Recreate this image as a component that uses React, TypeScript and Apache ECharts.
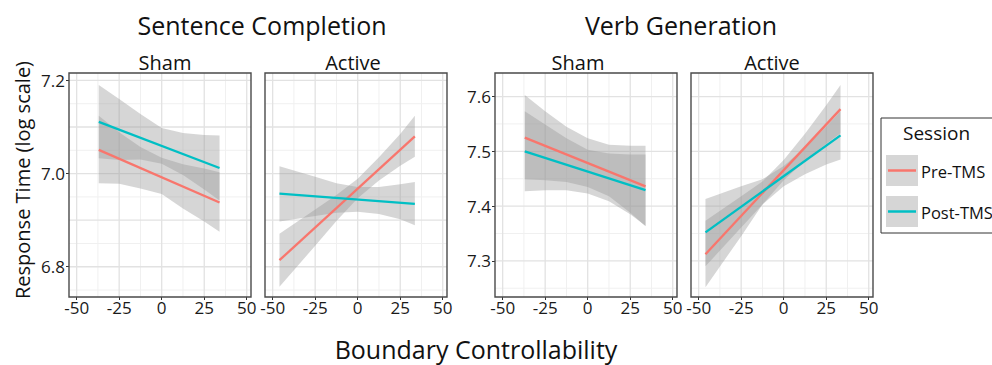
import React, { useEffect, useRef } from "react";
import * as echarts from "echarts";

// ---------- data ----------
const sessions = ["Pre-TMS", "Post-TMS"];
const sessionColors = ["#F8766D", "#00BFC4"];
const taskTitles = ["Sentence Completion", "Verb Generation"];
const conditionLabels = ["Sham", "Active", "Sham", "Active"];

const xTicks = [-50, -25, 0, 25, 50];
const xGridLines = [-50, -37.5, -25, -12.5, 0, 12.5, 25, 37.5, 50];
const scYTicks = [6.8, 7.0, 7.2];
const scYGridLines = [6.75, 6.8, 6.85, 6.9, 6.95, 7.0, 7.05, 7.1, 7.15, 7.2];
const scYMajor = [6.8, 6.9, 7.0, 7.1, 7.2];
const vgYTicks = [7.3, 7.4, 7.5, 7.6];
const vgYGridLines = [7.25, 7.3, 7.35, 7.4, 7.45, 7.5, 7.55, 7.6];
const vgYMajor = [7.3, 7.4, 7.5, 7.6];

// Sentence Completion - Sham
const scShamX = [-37, -25, -12.5, 0, 12.5, 25, 34];
const scShamPreLine = [[-37, 7.051], [34, 6.938]];
const scShamPostLine = [[-37, 7.111], [34, 7.012]];
const scShamPreUpper = [7.124, 7.089, 7.057, 7.034, 7.02, 7.011, 7.003];
const scShamPreLower = [6.979, 6.978, 6.968, 6.956, 6.925, 6.897, 6.875];
const scShamPostUpper = [7.19, 7.16, 7.128, 7.098, 7.087, 7.083, 7.082];
const scShamPostLower = [7.033, 7.029, 7.03, 7.021, 6.997, 6.966, 6.942];

// Sentence Completion - Active
const scActiveX = [-46, -25, -12.5, 0, 12.5, 25, 33.6];
const scActivePreLine = [[-46, 6.814], [33.6, 7.08]];
const scActivePostLine = [[-46, 6.957], [33.6, 6.935]];
const scActivePreUpper = [6.871, 6.923, 6.954, 6.989, 7.035, 7.085, 7.124];
const scActivePreLower = [6.757, 6.845, 6.898, 6.947, 6.985, 7.017, 7.036];
const scActivePostUpper = [7.016, 6.993, 6.979, 6.971, 6.971, 6.977, 6.982];
const scActivePostLower = [6.897, 6.909, 6.916, 6.918, 6.913, 6.902, 6.889];

// Verb Generation - Sham
const vgShamX = [-37, -25, -12.5, 0, 12.5, 25, 34];
const vgShamPreLine = [[-37, 7.525], [34, 7.436]];
const vgShamPostLine = [[-37, 7.5], [34, 7.429]];
const vgShamPreUpper = [7.603, 7.573, 7.545, 7.524, 7.512, 7.51, 7.51];
const vgShamPreLower = [7.449, 7.447, 7.444, 7.435, 7.418, 7.388, 7.363];
const vgShamPostUpper = [7.573, 7.549, 7.524, 7.503, 7.496, 7.494, 7.494];
const vgShamPostLower = [7.427, 7.429, 7.429, 7.423, 7.409, 7.385, 7.364];

// Verb Generation - Active
const vgActiveX = [-46, -25, -12.5, 0, 12.5, 25, 33.4];
const vgActivePreLine = [[-46, 7.312], [33.4, 7.577]];
const vgActivePostLine = [[-46, 7.352], [33.4, 7.529]];
const vgActivePreUpper = [7.373, 7.418, 7.445, 7.484, 7.532, 7.584, 7.621];
const vgActivePreLower = [7.252, 7.345, 7.403, 7.447, 7.483, 7.514, 7.533];
const vgActivePostUpper = [7.413, 7.436, 7.449, 7.473, 7.507, 7.545, 7.573];
const vgActivePostLower = [7.29, 7.361, 7.403, 7.436, 7.458, 7.476, 7.485];

// ---------- layout ----------
const FONT = "'Open Sans', 'DejaVu Sans', sans-serif";
const X_MIN = -54.5;
const X_MAX = 52.5;
const SC_RANGE = [6.735, 7.216];
const VG_RANGE = [7.234, 7.643];
const PANEL_LEFTS = [69, 265, 495, 691];
const PANEL_TOP = 73;
const PANEL_W = 182;
const PANEL_H = 224;

const panels = [
  { x: scShamX, pre: scShamPreLine, post: scShamPostLine, preU: scShamPreUpper, preL: scShamPreLower, postU: scShamPostUpper, postL: scShamPostLower, range: SC_RANGE, yTicks: scYTicks, yGrid: scYGridLines, yMajor: scYMajor, showY: true },
  { x: scActiveX, pre: scActivePreLine, post: scActivePostLine, preU: scActivePreUpper, preL: scActivePreLower, postU: scActivePostUpper, postL: scActivePostLower, range: SC_RANGE, yTicks: scYTicks, yGrid: scYGridLines, yMajor: scYMajor, showY: false },
  { x: vgShamX, pre: vgShamPreLine, post: vgShamPostLine, preU: vgShamPreUpper, preL: vgShamPreLower, postU: vgShamPostUpper, postL: vgShamPostLower, range: VG_RANGE, yTicks: vgYTicks, yGrid: vgYGridLines, yMajor: vgYMajor, showY: true },
  { x: vgActiveX, pre: vgActivePreLine, post: vgActivePostLine, preU: vgActivePreUpper, preL: vgActivePreLower, postU: vgActivePostUpper, postL: vgActivePostLower, range: VG_RANGE, yTicks: vgYTicks, yGrid: vgYGridLines, yMajor: vgYMajor, showY: false },
];

const isIn = (arr: number[], v: number) => arr.some((m) => Math.abs(m - v) < 1e-6);

function gridLineSeries(gi: number, yGrid: number[], yMajor: number[], range: number[]) {
  return {
    type: "custom",
    xAxisIndex: gi,
    yAxisIndex: gi,
    silent: true,
    z: 1,
    data: [[0, (range[0] + range[1]) / 2]],
    renderItem: (params: any, api: any) => {
      const cs = params.coordSys;
      const children: any[] = [];
      const minorStyle = { stroke: "#f0f0f0", lineWidth: 1 };
      const majorStyle = { stroke: "#e2e2e2", lineWidth: 1.3 };
      const mid = (range[0] + range[1]) / 2;
      [false, true].forEach((wantMajor) => {
        xGridLines.forEach((v) => {
          if (isIn(xTicks, v) !== wantMajor) return;
          const p = api.coord([v, mid]);
          children.push({ type: "line", shape: { x1: p[0], y1: cs.y, x2: p[0], y2: cs.y + cs.height }, style: wantMajor ? majorStyle : minorStyle });
        });
        yGrid.forEach((v) => {
          if (isIn(yMajor, v) !== wantMajor) return;
          const p = api.coord([0, v]);
          children.push({ type: "line", shape: { x1: cs.x, y1: p[1], x2: cs.x + cs.width, y2: p[1] }, style: wantMajor ? majorStyle : minorStyle });
        });
      });
      return { type: "group", children };
    },
  };
}

function ribbonSeries(gi: number, name: string, xs: number[], lo: number[], hi: number[]) {
  return {
    type: "custom",
    name,
    xAxisIndex: gi,
    yAxisIndex: gi,
    silent: true,
    z: 2,
    data: xs.map((x, i) => [x, lo[i], hi[i]]),
    encode: { x: 0, y: [1, 2] },
    renderItem: (params: any, api: any) => {
      if (params.dataIndex !== 0) return null;
      const top = xs.map((x, i) => api.coord([x, hi[i]]));
      const bot = xs.map((x, i) => api.coord([x, lo[i]])).reverse();
      return {
        type: "polygon",
        shape: { points: top.concat(bot) },
        style: { fill: "rgba(153,153,153,0.4)" },
      };
    },
  };
}

function lineSeries(gi: number, name: string, data: number[][], color: string) {
  return {
    type: "line",
    name,
    xAxisIndex: gi,
    yAxisIndex: gi,
    data,
    symbol: "none",
    showSymbol: false,
    silent: true,
    z: 2,
    lineStyle: { color, width: 2.3 },
  };
}

export default function App() {
  const ref = useRef<HTMLDivElement>(null);

  useEffect(() => {
    if (!ref.current) return;
    const chart = echarts.init(ref.current, undefined, { renderer: "svg" });

    const grids = PANEL_LEFTS.map((left) => ({
      left,
      top: PANEL_TOP,
      width: PANEL_W,
      height: PANEL_H,
      show: true,
      z: 5,
      backgroundColor: "transparent",
      borderColor: "#4a4a4a",
      borderWidth: 1.4,
    }));

    const xAxes = panels.map((_, gi) => ({
      type: "value",
      gridIndex: gi,
      position: "bottom",
      min: X_MIN,
      max: X_MAX,
      axisLine: { show: false, onZero: false },
      splitLine: { show: false },
      axisTick: { show: true, customValues: xTicks, length: 3, lineStyle: { color: "#333", width: 1 } },
      axisLabel: {
        customValues: xTicks,
        formatter: (v: number) => String(v),
        fontSize: 17,
        fontFamily: FONT,
        color: "#1a1a1a",
        margin: 2,
      },
    }));

    const yAxes = panels.map((p, gi) => ({
      type: "value",
      gridIndex: gi,
      position: "left",
      min: p.range[0],
      max: p.range[1],
      axisLine: { show: false, onZero: false },
      splitLine: { show: false },
      axisTick: { show: p.showY, customValues: p.yTicks, length: 3, lineStyle: { color: "#333", width: 1 } },
      axisLabel: {
        show: p.showY,
        customValues: p.yTicks,
        formatter: (v: number) => v.toFixed(1),
        fontSize: 17,
        fontFamily: FONT,
        color: "#1a1a1a",
        margin: 4,
      },
    }));

    const series: any[] = [];
    panels.forEach((p, gi) => {
      series.push(gridLineSeries(gi, p.yGrid, p.yMajor, p.range));
      series.push(ribbonSeries(gi, sessions[0] + " CI", p.x, p.preL, p.preU));
      series.push(lineSeries(gi, sessions[0], p.pre, sessionColors[0]));
      series.push(ribbonSeries(gi, sessions[1] + " CI", p.x, p.postL, p.postU));
      series.push(lineSeries(gi, sessions[1], p.post, sessionColors[1]));
    });

    const textStyle = (text: string, size: number) => ({
      text,
      fontSize: size,
      fontFamily: FONT,
      fill: "#111",
      align: "center",
      verticalAlign: "middle",
      textAlign: "center",
      textVerticalAlign: "middle",
    });

    const facetCenters = [165, 353, 578, 772];

    const graphic: any[] = [
      { type: "text", x: 262, y: 25, style: textStyle(taskTitles[0], 25) },
      { type: "text", x: 681, y: 25, style: textStyle(taskTitles[1], 25) },
      ...conditionLabels.map((c, i) => ({ type: "text", x: facetCenters[i], y: 62, style: textStyle(c, 20) })),
      { type: "text", x: 22, y: 180, rotation: Math.PI / 2, style: textStyle("Response Time (log scale)", 20) },
      { type: "text", x: 476, y: 349, style: textStyle("Boundary Controllability", 25) },
      // legend
      { type: "rect", shape: { x: 881, y: 118, width: 140, height: 115 }, style: { fill: "#fff", stroke: "#333", lineWidth: 1 } },
      { type: "text", x: 903, y: 133, style: { ...textStyle("Session", 19), align: "left", textAlign: "left" } },
      ...sessions.flatMap((s, i) => {
        const y0 = 155 + i * 41;
        return [
          { type: "rect", shape: { x: 886, y: y0, width: 32, height: 31 }, style: { fill: "#d6d6d6" } },
          { type: "line", shape: { x1: 888, y1: y0 + 15.5, x2: 916, y2: y0 + 15.5 }, style: { stroke: sessionColors[i], lineWidth: 2.5 } },
          { type: "text", x: 921, y: y0 + 16, style: { ...textStyle(s, 16.5), align: "left", textAlign: "left" } },
        ];
      }),
    ];

    chart.setOption({
      animation: false,
      backgroundColor: "#ffffff",
      grid: grids,
      xAxis: xAxes,
      yAxis: yAxes,
      series,
      graphic,
    });

    return () => chart.dispose();
  }, []);

  return (
    <div
      ref={ref}
      style={{ position: "absolute", left: 0, top: 0, width: 992, height: 365, background: "#fff" }}
    />
  );
}
